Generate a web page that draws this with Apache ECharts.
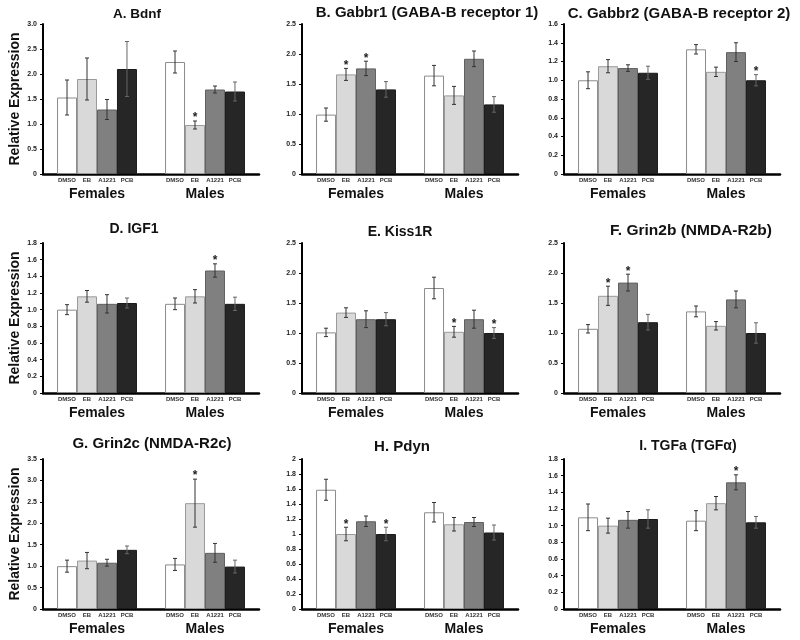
<!DOCTYPE html>
<html><head><meta charset="utf-8">
<script src="https://cdn.jsdelivr.net/npm/echarts@6/dist/echarts.min.js"></script>
<style>html,body{margin:0;padding:0;background:#fff}#c{width:800px;height:640px}</style>
</head><body><div id="c"></div>
<script>
const groups = ['Females', 'Males'];
const treatments = ['DMSO', 'EB', 'A1221', 'PCB'];
const panelTitles = ['A. Bdnf', 'B. Gabbr1 (GABA-B receptor 1)', 'C. Gabbr2 (GABA-B receptor 2)',
  'D. IGF1', 'E. Kiss1R', 'F. Grin2b (NMDA-R2b)', 'G. Grin2c (NMDA-R2c)', 'H. Pdyn', 'I. TGFa (TGF\u03b1)'];
const yMax = [3, 2.5, 1.6, 1.8, 2.5, 2.5, 3.5, 2, 1.8];
const yInterval = [0.5, 0.5, 0.2, 0.2, 0.5, 0.5, 0.5, 0.2, 0.2];
const yFixedDecimals = [true, true, true, true, true, true, true, false, true];

// order: Females DMSO, EB, A1221, PCB, Males DMSO, EB, A1221, PCB
const bdnfMean = [1.53, 1.90, 1.29, 2.10, 2.24, 0.98, 1.69, 1.65];
const bdnfErr  = [0.35, 0.42, 0.20, 0.55, 0.22, 0.08, 0.07, 0.19];
const bdnfSig  = [0, 0, 0, 0, 0, 1, 0, 0];

const gabbr1Mean = [0.99, 1.66, 1.76, 1.41, 1.64, 1.31, 1.92, 1.16];
const gabbr1Err  = [0.11, 0.10, 0.12, 0.13, 0.17, 0.15, 0.13, 0.13];
const gabbr1Sig  = [0, 1, 1, 0, 0, 0, 0, 0];

const gabbr2Mean = [1.00, 1.15, 1.13, 1.08, 1.33, 1.09, 1.30, 1.00];
const gabbr2Err  = [0.09, 0.07, 0.035, 0.07, 0.05, 0.05, 0.10, 0.06];
const gabbr2Sig  = [0, 0, 0, 0, 0, 0, 0, 1];

const igf1Mean = [1.00, 1.16, 1.07, 1.08, 1.07, 1.16, 1.47, 1.07];
const igf1Err  = [0.06, 0.07, 0.11, 0.06, 0.07, 0.08, 0.08, 0.08];
const igf1Sig  = [0, 0, 0, 0, 0, 0, 1, 0];

const kiss1rMean = [1.01, 1.34, 1.23, 1.23, 1.75, 1.02, 1.23, 1.00];
const kiss1rErr  = [0.07, 0.08, 0.14, 0.11, 0.18, 0.09, 0.15, 0.09];
const kiss1rSig  = [0, 0, 0, 0, 0, 1, 0, 1];

const grin2bMean = [1.07, 1.62, 1.84, 1.18, 1.36, 1.12, 1.56, 1.00];
const grin2bErr  = [0.07, 0.16, 0.14, 0.13, 0.09, 0.07, 0.14, 0.17];
const grin2bSig  = [0, 1, 1, 0, 0, 0, 0, 0];

const grin2cMean = [1.00, 1.13, 1.08, 1.38, 1.04, 2.47, 1.31, 0.99];
const grin2cErr  = [0.14, 0.19, 0.08, 0.09, 0.14, 0.56, 0.22, 0.15];
const grin2cSig  = [0, 0, 0, 0, 0, 1, 0, 0];

const pdynMean = [1.59, 1.00, 1.17, 1.00, 1.29, 1.13, 1.16, 1.02];
const pdynErr  = [0.14, 0.09, 0.07, 0.09, 0.13, 0.09, 0.06, 0.10];
const pdynSig  = [0, 1, 0, 1, 0, 0, 0, 0];

const tgfaMean = [1.10, 1.00, 1.07, 1.08, 1.06, 1.27, 1.52, 1.04];
const tgfaErr  = [0.16, 0.09, 0.10, 0.11, 0.12, 0.08, 0.09, 0.07];
const tgfaSig  = [0, 0, 0, 0, 0, 0, 1, 0];

const panelMeans = [bdnfMean, gabbr1Mean, gabbr2Mean, igf1Mean, kiss1rMean, grin2bMean, grin2cMean, pdynMean, tgfaMean];
const panelErrs  = [bdnfErr, gabbr1Err, gabbr2Err, igf1Err, kiss1rErr, grin2bErr, grin2cErr, pdynErr, tgfaErr];
const panelSigs  = [bdnfSig, gabbr1Sig, gabbr2Sig, igf1Sig, kiss1rSig, grin2bSig, grin2cSig, pdynSig, tgfaSig];

// ---- layout / style ----
const FONT = '"Liberation Sans", Arial, sans-serif';
const colLeft = [43, 302, 564];
const rowTop = [24, 243, 459];
const GW = 216, GH = 150;
const titleCenters = [[137, 15], [427, 14], [679, 15], [134, 230], [400, 233], [691, 232], [152, 445], [402, 448], [688, 447]];
const titleSizes = [13.5, 15, 15, 14, 14, 15.5, 15, 15, 14];
const CAT_GAP = 0.26;
const barFill = ['#ffffff', '#d9d9d9', '#808080', '#262626'];
const barBorder = ['#8c8c8c', '#9a9a9a', '#606060', '#1a1a1a'];

const bw = (1 - CAT_GAP) / 4;
const subVals = [];
for (let c = 0; c < 2; c++) for (let t = 0; t < 4; t++) subVals.push(+(c + 0.5 + (t - 1.5) * bw).toFixed(6));

const grid = [], xAxis = [], yAxis = [], series = [], title = [];
for (let p = 0; p < 9; p++) {
  const r = Math.floor(p / 3), col = p % 3;
  grid.push({left: colLeft[col], top: rowTop[r], width: GW, height: GH});
  title.push({text: panelTitles[p], left: titleCenters[p][0], top: titleCenters[p][1] - titleSizes[p] * 0.58, textAlign: 'center', padding: 0,
    textStyle: {fontFamily: FONT, fontSize: titleSizes[p], fontWeight: 'bold', color: '#111'}});
  xAxis.push({type: 'category', gridIndex: p, data: groups,
    axisLine: {lineStyle: {color: '#000', width: 2.5}}, axisTick: {show: false},
    axisLabel: {margin: 13, fontFamily: FONT, fontSize: 14, fontWeight: 'bold', color: '#111'}});
  xAxis.push({type: 'value', gridIndex: p, min: 0, max: 2, position: 'bottom',
    axisLine: {show: false}, axisTick: {show: false}, splitLine: {show: false},
    axisLabel: {customValues: subVals, margin: 3, fontFamily: FONT, fontSize: 6, fontWeight: 'bold', color: '#333',
      formatter: v => { const i = subVals.findIndex(s => Math.abs(s - v) < 1e-4); return i < 0 ? '' : treatments[i % 4]; }}});
  const fixed = yFixedDecimals[p];
  yAxis.push({type: 'value', gridIndex: p, min: 0, max: yMax[p], interval: yInterval[p],
    name: col === 0 ? 'Relative Expression' : '', nameLocation: 'middle', nameGap: 21,
    nameTextStyle: {fontFamily: FONT, fontSize: 14, fontWeight: 'bold', color: '#111'},
    axisLine: {show: true, lineStyle: {color: '#000', width: 2}},
    axisTick: {show: true, length: 3, lineStyle: {color: '#000'}},
    splitLine: {show: false},
    axisLabel: {margin: 6, fontFamily: FONT, fontSize: 7, fontWeight: 'bold', color: '#222',
      formatter: v => v === 0 ? '0' : (fixed ? v.toFixed(1) : String(+v.toFixed(1)))}});
  for (let t = 0; t < 4; t++) {
    series.push({type: 'bar', xAxisIndex: p * 2, yAxisIndex: p,
      data: [panelMeans[p][t], panelMeans[p][4 + t]],
      barGap: '0%', barCategoryGap: (CAT_GAP * 100) + '%',
      itemStyle: {color: barFill[t], borderColor: barBorder[t], borderWidth: 1},
      silent: true, animation: false});
  }
  const eb = [];
  for (let c = 0; c < 2; c++) for (let t = 0; t < 4; t++) {
    const k = c * 4 + t;
    eb.push([c, t, panelMeans[p][k], panelErrs[p][k], panelSigs[p][k]]);
  }
  series.push({type: 'custom', xAxisIndex: p * 2, yAxisIndex: p, data: eb, z: 5, silent: true, animation: false,
    encode: {x: 0, y: 2},
    renderItem: (params, api) => {
      const c = api.value(0), t = api.value(1), m = api.value(2), e = api.value(3), s = api.value(4);
      const catW = api.size([1, 0])[0];
      const x = api.coord([c, m])[0] + (t - 1.5) * catW * bw;
      const yt = api.coord([c, m + e])[1];
      const yb = api.coord([c, m - e])[1];
      const st = {stroke: t === 3 ? '#666' : '#333', lineWidth: 1};
      const ch = [
        {type: 'line', shape: {x1: x, y1: yt, x2: x, y2: yb}, style: st},
        {type: 'line', shape: {x1: x - 2, y1: yt, x2: x + 2, y2: yt}, style: st},
        {type: 'line', shape: {x1: x - 2, y1: yb, x2: x + 2, y2: yb}, style: st}
      ];
      if (s) ch.push({type: 'text', x: x, y: yt - 3, style: {text: '*', fill: '#222', fontSize: 12, fontWeight: 'bold', fontFamily: FONT, align: 'center', verticalAlign: 'middle'}});
      return {type: 'group', children: ch};
    }});
}

const chart = echarts.init(document.getElementById('c'), null, {renderer: 'canvas'});
chart.setOption({backgroundColor: '#fff', animation: false, title, grid, xAxis, yAxis, series});
</script></body></html>
